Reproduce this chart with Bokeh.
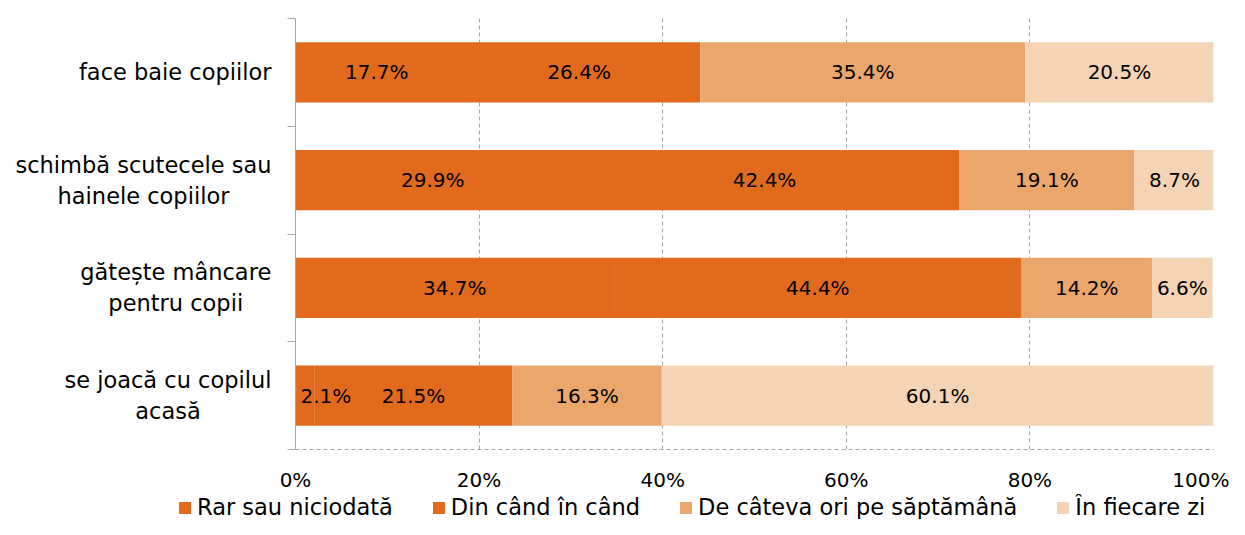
from bokeh.plotting import figure
from bokeh.layouts import row, column
from bokeh.models import (ColumnDataSource, Range1d, FixedTicker, PrintfTickFormatter,
                          Legend, LegendItem)
from bokeh.core.properties import value
from bokeh.embed import file_html
from bokeh.resources import INLINE

categories = ["face baie copiilor", "schimbă scutecele sau\nhainele copiilor",
              "gătește mâncare\npentru copii", "se joacă cu copilul\nacasă"]
series = ["Rar sau niciodată", "Din când în când", "De câteva ori pe săptămână", "În fiecare zi"]
rar = [17.7, 29.9, 34.7, 2.1]
din_cand = [26.4, 42.4, 44.4, 21.5]
de_cateva = [35.4, 19.1, 14.2, 16.3]
zilnic = [20.5, 8.7, 6.6, 60.1]
x_ticks = [0, 20, 40, 60, 80, 100]

colors = ["#E16A1C", "#E16A1C", "#EBA76B", "#F5D3B5"]
FONT = "DejaVu Sans"
GRAY = "#A6A6A6"
CAT_SIZE = 22.5
NUM_SIZE = 20

# approximate DejaVu Sans advance widths (units per em = 2048) for measuring label blocks
ADV = {" ": 651, "a": 1255, "b": 1300, "c": 1126, "d": 1300, "e": 1260, "f": 721, "g": 1300,
       "h": 1298, "i": 569, "j": 569, "l": 569, "m": 1995, "n": 1298, "o": 1253, "p": 1300,
       "r": 842, "s": 1067, "t": 803, "u": 1298, "ă": 1255, "â": 1255, "ș": 1067}


def text_width(s, size):
    return sum(ADV.get(ch, 1200) for ch in s) * size / 2048.0


ys = [i + 0.5 for i in range(len(categories))]
yr = Range1d(4, 0)
TOP, BOTTOM_MAIN, ROW_H = 18, 41, 494
LEFT_W, MAIN_W, TOTAL_W = 275, 954, 1229

# ---------- main chart ----------
keys = ["s0", "s1", "s2", "s3"]
src = ColumnDataSource(dict(y=ys, s0=rar, s1=din_cand, s2=de_cateva, s3=zilnic))

p = figure(width=MAIN_W, height=ROW_H, x_range=Range1d(0, 100), y_range=yr,
           output_backend="svg", toolbar_location=None,
           min_border_left=20, min_border_right=16, min_border_top=TOP,
           min_border_bottom=BOTTOM_MAIN)
p.outline_line_color = None

rs = p.hbar_stack(keys, y="y", height=0.56, color=colors, source=src, line_width=0)

lx, ly, lt = [], [], []
sx, sy, st = [], [], []
vals = [rar, din_cand, de_cateva, zilnic]
for i in range(len(categories)):
    start = 0.0
    for s in range(4):
        v = vals[s][i]
        if v < 5:
            sx.append(start); sy.append(ys[i]); st.append(f"{v:.1f}%")
        else:
            lx.append(start + v / 2); ly.append(ys[i]); lt.append(f"{v:.1f}%")
        start += v
p.text(x=lx, y=ly, text=lt, text_align="center", text_baseline="middle",
       text_font=value(FONT), text_font_size=f"{NUM_SIZE}px", text_color="black")
p.text(x=sx, y=sy, text=st, text_align="left", text_baseline="middle", x_offset=5,
       text_font=value(FONT), text_font_size=f"{NUM_SIZE}px", text_color="black")

xa = p.xaxis[0]
xa.ticker = FixedTicker(ticks=x_ticks)
xa.formatter = PrintfTickFormatter(format="%d%%")
xa.axis_line_color = GRAY
xa.axis_line_dash = "4 3"
xa.major_tick_line_color = None
xa.minor_tick_line_color = None
xa.major_tick_out = 0
xa.major_tick_in = 0
xa.major_label_standoff = 18
xa.major_label_text_font = FONT
xa.major_label_text_font_size = f"{NUM_SIZE}px"
xa.major_label_text_color = "black"

ya = p.yaxis[0]
ya.ticker = FixedTicker(ticks=[0, 1, 2, 3, 4])
ya.major_label_overrides = {k: "" for k in [0, 1, 2, 3, 4]}
ya.major_label_text_font_size = "1px"
ya.major_label_standoff = 0
ya.axis_line_color = GRAY
ya.major_tick_line_color = GRAY
ya.major_tick_out = 8
ya.major_tick_in = 0
ya.minor_tick_line_color = None

p.xgrid.ticker = FixedTicker(ticks=x_ticks)
p.xgrid.grid_line_color = GRAY
p.xgrid.grid_line_dash = "4 3"
p.ygrid.visible = False

# ---------- category labels (block right-aligned, lines centred) ----------
lab = figure(width=LEFT_W, height=ROW_H, x_range=Range1d(0, LEFT_W), y_range=yr,
             output_backend="svg", toolbar_location=None,
             min_border_left=0, min_border_right=0, min_border_top=TOP,
             min_border_bottom=BOTTOM_MAIN)
lab.axis.visible = False
lab.grid.visible = False
lab.outline_line_color = None
right_edge = LEFT_W - 4
cx = []
for cat in categories:
    w = max(text_width(l, CAT_SIZE) for l in cat.split("\n"))
    cx.append(right_edge - w / 2)
lab.text(x=cx, y=ys, text=categories, text_align="center", text_baseline="middle",
         text_font=value(FONT), text_font_size=f"{CAT_SIZE}px", text_color="black",
         text_line_height=1.2)

# ---------- legend strip ----------
LEG_H = 519 - ROW_H
lg_fig = figure(width=TOTAL_W, height=LEG_H, x_range=Range1d(0, 1), y_range=Range1d(0, 1),
                output_backend="svg", toolbar_location=None,
                min_border_left=0, min_border_right=0, min_border_top=0, min_border_bottom=0)
lg_fig.axis.visible = False
lg_fig.grid.visible = False
lg_fig.outline_line_color = None
# hidden swatch renderers that only supply the legend glyphs
dummies = [lg_fig.hbar(y=[10], left=[0], right=[1], height=0.5, color=c, line_width=0,
                       visible=False) for c in colors]
items = [LegendItem(label=series[k], renderers=[dummies[k]]) for k in range(4)]
lg = Legend(items=items, orientation="horizontal", location=(177, -1))
lg.border_line_color = None
lg.background_fill_alpha = 0
lg.inactive_fill_alpha = 0
lg.padding = 0
lg.margin = 0
lg.spacing = 38
lg.glyph_width = 15
lg.glyph_height = 15
lg.label_standoff = 5
lg.label_text_font = FONT
lg.label_text_font_size = f"{CAT_SIZE}px"
lg.label_text_color = "black"
lg.label_height = 20
lg_fig.add_layout(lg)

layout = column(row(lab, p, spacing=0), lg_fig, spacing=0)
open("out.html", "w").write(file_html(layout, INLINE))
